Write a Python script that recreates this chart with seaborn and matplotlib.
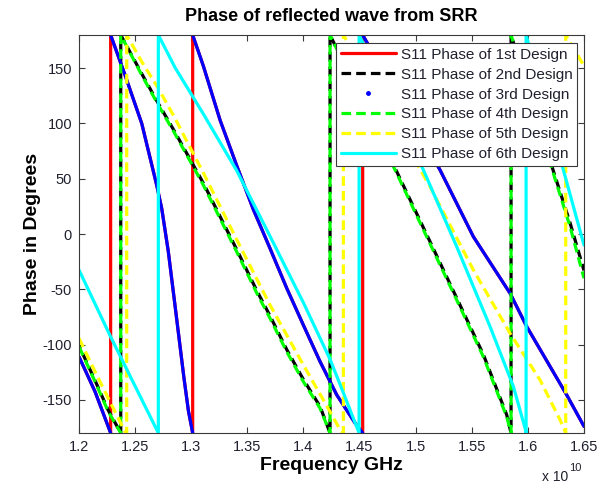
import matplotlib
matplotlib.use("Agg")
import matplotlib.pyplot as plt
import pandas as pd
import seaborn as sns
from matplotlib.lines import Line2D

# ---------------- data (frequency in units of 1e10 Hz, phase in degrees) -------------
# 1st and 3rd designs coincide (red line under blue dots)
freq_1st = [1.2, 1.2143, 1.2282, 1.2282, 1.241, 1.2559, 1.2692, 1.2737,
            1.2796, 1.2856, 1.2935, 1.2975, 1.3013, 1.3013, 1.3108, 1.3257, 1.3405, 1.3554,
            1.3702, 1.3851, 1.3999, 1.4148, 1.4297, 1.446, 1.4528, 1.4528, 1.5217, 1.5514,
            1.5841, 1.599, 1.6346, 1.65]
phase_1st = [-111, -142.6, -180, 180, 143.8, 100, 44.3, 23.2,
             -16, -65, -130, -160, -180, 180, 152, 103, 62, 22,
             -13, -49, -82.3, -115.4, -145.6, -171, -180, 180, 57.9, -2.4,
             -53.6, -83.8, -145.6, -174]

freq_3rd = list(freq_1st)
phase_3rd = list(phase_1st)

freq_4th = [1.2, 1.2143, 1.2261, 1.2372, 1.2372, 1.2559, 1.2707, 1.2856, 1.296, 1.3108,
            1.3286, 1.3405, 1.3583, 1.3702, 1.3851, 1.3999, 1.4148, 1.4237, 1.4237, 1.4831,
            1.5098, 1.5366, 1.5603, 1.5811, 1.585, 1.585, 1.6227, 1.6376, 1.65]
phase_4th = [-101.9, -133.5, -160.7, -180, 180, 143.8, 116.6, 90.5, 71.5, 44.3,
             8.1, -16, -53.2, -76.2, -106.4, -133.5, -157.6, -180, 180, 54.9,
             -2.4, -59.7, -111, -165.2, -180, 180, 54.9, 6.6, -40]

freq_2nd = list(freq_4th)
phase_2nd = [-101, -132.5, -159.5, -180, 180, 145, 118, 92, 73, 46,
             10, -14, -51, -74, -104.5, -131.5, -156, -180, 180, 56.5,
             -0.5, -58, -109, -163.5, -180, 180, 57, 10, -33]

freq_5th = [1.2, 1.2143, 1.232, 1.241, 1.2425, 1.2425, 1.2559, 1.2707, 1.2856, 1.2989,
            1.3108, 1.3405, 1.3702, 1.3999, 1.4237, 1.4326, 1.4356, 1.4356, 1.5128, 1.5514,
            1.5841, 1.6108, 1.6287, 1.6337, 1.6337, 1.65]
phase_5th = [-94.3, -124.5, -160.7, -178.7, -180, 180, 155.8, 131.7, 104.6, 78.4,
             55.3, -5, -64.2, -118.4, -160.7, -177, -180, 180, 42.8, -32.5,
             -89.8, -132, -168.2, -180, 180, 152]

freq_6th = [1.2, 1.2282, 1.2707, 1.2707, 1.2856, 1.3108, 1.3405, 1.3702, 1.3999,
            1.4237, 1.4326, 1.4496, 1.4496, 1.5069, 1.5366, 1.5663, 1.5871, 1.5975, 1.5984,
            1.5984, 1.6316, 1.65]
phase_6th = [-32.5, -93, -180, 180, 150.5, 108.6, 57.4, -2, -62,
             -113.4, -136, -180, 180, 57.9, -11.5, -83.8, -138, -175.7, -180,
             180, 57.9, -10]

design_names = ["S11 Phase of 1st Design", "S11 Phase of 2nd Design",
                "S11 Phase of 3rd Design", "S11 Phase of 4th Design",
                "S11 Phase of 5th Design", "S11 Phase of 6th Design"]

x_ticks = [1.2, 1.25, 1.3, 1.35, 1.4, 1.45, 1.5, 1.55, 1.6, 1.65]
x_tick_labels = ["1.2", "1.25", "1.3", "1.35", "1.4", "1.45", "1.5", "1.55", "1.6", "1.65"]
y_ticks = [-150, -100, -50, 0, 50, 100, 150]
y_tick_labels = ["-150", "-100", "-50", "0", "50", "100", "150"]

# ---------------- styling ----------------
colors = ["#ff0000", "#000000", "#0000ff", "#00ff00", "#ffff00", "#00ffff"]
LW = 2.3
DASH = (3.0, 1.6)
styles = [("solid", 0), ("dash", 1.9), ("dots", 0), ("dash", 0), ("dash", 0), ("solid", 0)]

sns.set_theme(style="white")
plt.rcParams["font.family"] = ["Liberation Sans", "DejaVu Sans"]
text_col = "#20202e"
spine_col = "#3a3a3a"

fig = plt.figure(figsize=(6.09, 4.86), dpi=100)
ax = fig.add_axes([79 / 609, 1 - 433 / 486, 505 / 609, 398 / 486])

freqs = [freq_1st, freq_2nd, freq_3rd, freq_4th, freq_5th, freq_6th]
phases = [phase_1st, phase_2nd, phase_3rd, phase_4th, phase_5th, phase_6th]

frames = []
for name, f, p in zip(design_names, freqs, phases):
    df = pd.DataFrame({"freq": f, "phase": p})
    df["design"] = name
    df["segment"] = (df["phase"].diff() > 180).cumsum()
    frames.append(df)
data = pd.concat(frames, ignore_index=True)

handles = []
for name, col, (kind, off) in zip(design_names, colors, styles):
    sub = data[data["design"] == name]
    n_before = len(ax.lines)
    if kind == "dots":
        sns.lineplot(data=sub, x="freq", y="phase", units="segment", estimator=None,
                     sort=False, color=col, lw=LW, ax=ax, legend=False)
        handles.append(Line2D([], [], color=col, marker=".", ls="none", markersize=5))
    else:
        sns.lineplot(data=sub, x="freq", y="phase", estimator=None, sort=False,
                     color=col, lw=LW, ax=ax, legend=False)
        if kind == "dash":
            for ln in ax.lines[n_before:]:
                ln.set_linestyle((off, DASH))
            handles.append(Line2D([], [], color=col, lw=LW, ls=(0, DASH)))
        else:
            handles.append(Line2D([], [], color=col, lw=LW))

ax.set_xlim(1.2, 1.65)
ax.set_ylim(-180, 180)
ax.set_xticks(x_ticks)
ax.set_xticklabels(x_tick_labels)
ax.set_yticks(y_ticks)
ax.set_yticklabels(y_tick_labels)
ax.tick_params(direction="in", length=4, width=0.8, color=spine_col, labelsize=10.5,
               labelcolor=text_col, pad=5, top=True, right=True, bottom=True, left=True)
for s in ax.spines.values():
    s.set_color(spine_col)
    s.set_linewidth(0.8)
    s.set_visible(True)

ax.set_title("Phase of reflected wave from SRR", fontsize=13, fontweight="bold",
             color="black", pad=10)
ax.set_xlabel("Frequency GHz", fontsize=14, fontweight="bold", color="black", labelpad=2)
ax.set_ylabel("Phase in Degrees", fontsize=14, fontweight="bold", color="black", labelpad=1)

fig.text(568 / 609, 1 - 481 / 486, "x 10", fontsize=10, color=text_col, ha="right", va="baseline")
fig.text(569 / 609, 1 - 471 / 486, "10", fontsize=8, color=text_col, ha="left", va="baseline")

leg = ax.legend(handles, design_names, loc="upper right",
                bbox_to_anchor=(577 / 609, 1 - 43 / 486), bbox_transform=fig.transFigure,
                borderaxespad=0, fontsize=11, frameon=True, fancybox=False,
                framealpha=1, edgecolor=spine_col, handlelength=3.6, handletextpad=0.33,
                labelspacing=0.39, borderpad=0.3)
leg.get_frame().set_linewidth(0.8)
for t in leg.get_texts():
    t.set_color(text_col)

fig.savefig("out.png", dpi=100)
